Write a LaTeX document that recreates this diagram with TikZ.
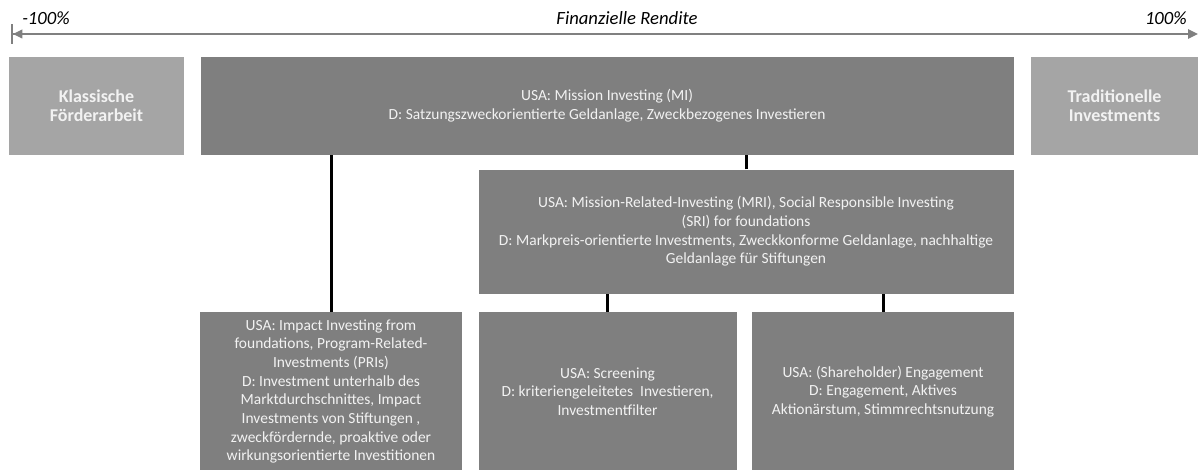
\documentclass[tikz,border=0pt]{standalone}
\usepackage{fontspec}
\setmainfont{Carlito}
\usepackage{tikz}
\usetikzlibrary{arrows.meta, positioning}
\definecolor{boxdark}{HTML}{7F7F7F}
\definecolor{boxlight}{HTML}{A5A5A5}
\definecolor{boxtext}{HTML}{F2F2F2}
\definecolor{axisgray}{HTML}{808080}

\begin{document}
\begin{tikzpicture}[
    x=0.75pt, y=-0.75pt,
    font=\fontsize{11.6pt}{14pt}\selectfont,
    box/.style={inner sep=2pt, align=center, text=boxtext, minimum height=73.5pt},
    darkbox/.style={box, fill=boxdark},
    lightbox/.style={box, fill=boxlight, font=\fontsize{13.5pt}{14.5pt}\selectfont\bfseries},
    lowbox/.style={darkbox, minimum height=119.25pt},
    link/.style={line width=2.25pt, black},
    axis/.style={{Bar[width=15pt,line width=1.5pt]Triangle[length=7pt,width=6.5pt]}-{Triangle[length=7.5pt,width=7pt]},
                 line width=1.1pt, axisgray},
    axlabel/.style={font=\fontsize{14pt}{16pt}\selectfont\itshape, inner sep=0pt}
]
\useasboundingbox (0,0) rectangle (1200,470);

% axis
\coordinate (axl) at (11,34);
\coordinate (axr) at (1198,34);
\draw[axis] (axl) -- (axr);
\node[axlabel, anchor=west] (lo)  at (22,18)   {-100\%};
\node[axlabel]              (mid) at (627,18)  {Finanzielle Rendite};
\node[axlabel, anchor=east] (hi)  at (1187,18) {100\%};

% top row
\node[lightbox, minimum width=131.25pt] (klass) at (96.5,106) {Klassische\\Förderarbeit};
\node[darkbox, minimum width=609.75pt, right=12pt of klass] (mi)
    {USA: Mission Investing (MI)\\D: Satzungszweckorientierte Geldanlage, Zweckbezogenes Investieren};
\node[lightbox, minimum width=125.25pt, right=12.75pt of mi] (trad) {Traditionelle\\Investments};

% second level
\node[darkbox, minimum width=401.25pt, minimum height=93pt, below left=10.5pt and 0pt of mi.south east] (mri)
    {USA: Mission-Related-Investing (MRI), Social Responsible Investing\\(SRI) for foundations\\
     D: Markpreis-orientierte Investments, Zweckkonforme Geldanlage, nachhaltige\\Geldanlage für Stiftungen};

% bottom row
\node[lowbox, minimum width=193.5pt, below right=13.5pt and 0pt of mri.south west] (screen)
    {USA: Screening\\D: kriteriengeleitetes\ \ Investieren,\\Investmentfilter};
\node[lowbox, minimum width=196.5pt, left=12pt of screen] (impact)
    {USA: Impact Investing from\\foundations, Program-Related-\\Investments (PRIs)\\D: Investment unterhalb des\\
     Marktdurchschnittes, Impact\\Investments von Stiftungen ,\\zweckfördernde, proaktive oder\\wirkungsorientierte Investitionen};
\node[lowbox, minimum width=196.5pt, right=11.25pt of screen] (engage)
    {USA: (Shareholder) Engagement\\D: Engagement, Aktives\\Aktionärstum, Stimmrechtsnutzung};

% connectors
\draw[link] (mri.north) -- (mri.north |- mi.south);
\draw[link] (impact.north) -- (impact.north |- mi.south);
\draw[link] (screen.north) -- (screen.north |- mri.south);
\draw[link] (engage.north) -- (engage.north |- mri.south);
\end{tikzpicture}
\end{document}
